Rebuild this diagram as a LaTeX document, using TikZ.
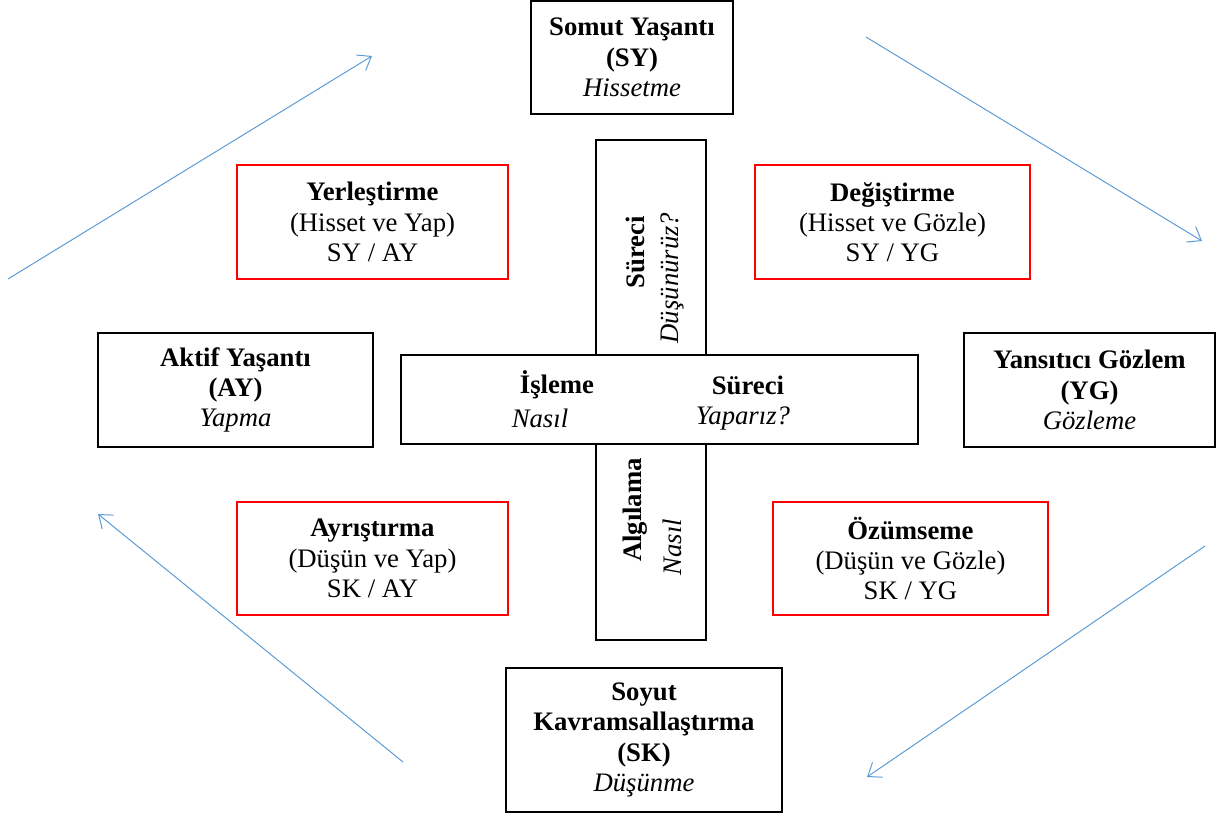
\documentclass[tikz,border=0pt]{standalone}
\usepackage{fontspec}
\setmainfont{Liberation Serif}
\usetikzlibrary{arrows.meta}
\definecolor{arrowblue}{RGB}{91,155,213}
\newcommand{\pxu}{0.025cm}
\tikzset{
  mainbox/.style={draw, line width=1pt, align=center, inner sep=0pt},
  redbox/.style={draw=red, line width=1.2pt, align=center, inner sep=0pt},
  cyclearrow/.style={draw=arrowblue, line width=0.7pt, -{Straight Barb[length=3mm,width=4.5mm]}}
}
\begin{document}
\begin{tikzpicture}[x=0.025cm, y=-0.025cm, every node/.style={font=\fontsize{19}{21.5}\selectfont}]
			\useasboundingbox (0,0) rectangle (1219,814);
			% four modes
			\node [mainbox, minimum width=202*\pxu, minimum height=113*\pxu] (sy) at (632,57.5) {\textbf{Somut Yaşantı}\\\textbf{(SY)}\\\textit{Hissetme}};
			\node [mainbox, minimum width=275*\pxu, minimum height=114*\pxu] (ay) at (235.5,390) {\textbf{Aktif Yaşantı}\\\textbf{(AY)}\\\textit{Yapma}};
			\node [mainbox, minimum width=251*\pxu, minimum height=114*\pxu] (yg) at (1089.5,390) {\textbf{Yansıtıcı Gözlem}\\\textbf{(YG)}\\\textit{Gözleme}};
			\node [mainbox, minimum width=276*\pxu, minimum height=144*\pxu] (sk) at (644,740) {\textbf{Soyut}\\\textbf{Kavramsallaştırma}\\\textbf{(SK)}\\\textit{Düşünme}};
			% learning styles
			\node [redbox, minimum width=271*\pxu, minimum height=114*\pxu] (yer) at (372.5,222) {\textbf{Yerleştirme}\\(Hisset ve Yap)\\SY / AY};
			\node [redbox, minimum width=275*\pxu, minimum height=114*\pxu] (deg) at (892.5,222) {\textbf{Değiştirme}\\(Hisset ve Gözle)\\SY / YG};
			\node [redbox, minimum width=271*\pxu, minimum height=113*\pxu] (ayr) at (372.5,558.5) {\textbf{Ayrıştırma}\\(Düşün ve Yap)\\SK / AY};
			\node [redbox, minimum width=275*\pxu, minimum height=113*\pxu] (ozu) at (910.5,558.5) {\textbf{Özümseme}\\(Düşün ve Gözle)\\SK / YG};
			% the cross
			\node [mainbox, minimum width=110*\pxu, minimum height=500*\pxu] (bar) at (651,390) {};
			\node [mainbox, fill=white, minimum width=517*\pxu, minimum height=89*\pxu] (cross) at (659.5,399.5) {};
			\node [rotate=90] (barsur) at (635,252) {\textbf{Süreci}};
			\node [rotate=90] (bardus) at (672,278) {\textit{Düşünürüz?}};
			\node [rotate=90] (baralg) at (635,510) {\textbf{Algılama}};
			\node [rotate=90] (barnas) at (672,547) {\textit{Nasıl}};
			\node (crisl) at (557,385) {\textbf{İşleme}};
			\node (crnas) at (540,418) {\textit{Nasıl}};
			\node (crsur) at (748,385) {\textbf{Süreci}};
			\node (cryap) at (743,418) {\textit{Yaparız?}};
			% cycle arrows
			\coordinate (upA) at (8,279);
			\coordinate (upB) at (372,56);
			\coordinate (rtA) at (866,37);
			\coordinate (rtB) at (1202,241);
			\coordinate (dnA) at (1205,546);
			\coordinate (dnB) at (867,777);
			\coordinate (lfA) at (403,762);
			\coordinate (lfB) at (98,514);
			\path
			(upA) edge [cyclearrow] (upB)
			(rtA) edge [cyclearrow] (rtB)
			(dnA) edge [cyclearrow] (dnB)
			(lfA) edge [cyclearrow] (lfB);
		\end{tikzpicture}
\end{document}
